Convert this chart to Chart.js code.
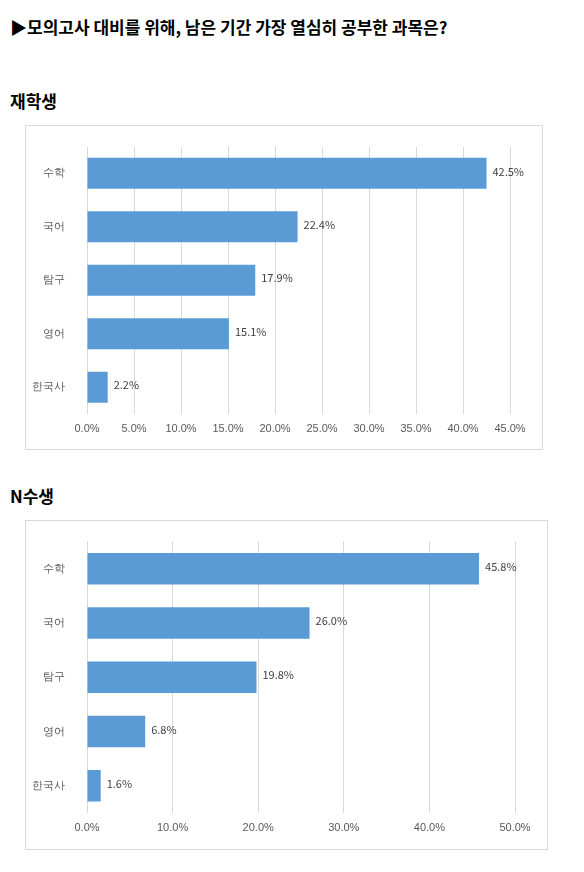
<!DOCTYPE html>
<html><head><meta charset="utf-8">
<script src="https://cdn.jsdelivr.net/npm/chart.js@4"></script>
<style>
body{margin:0;background:#fff;font-family:"Noto Sans CJK KR",sans-serif;}
.t{position:absolute;font-weight:bold;color:#000;}
.box{position:absolute;border:1px solid #d9d9d9;box-sizing:border-box;}
</style></head><body>
<div class="t" style="left:10px;top:14px;font-size:17px;">▶모의고사 대비를 위해, 남은 기간 가장 열심히 공부한 과목은?</div>
<div class="t" style="left:10px;top:88px;font-size:17px;">재학생</div>
<div class="box" style="left:25px;top:125px;width:518px;height:325px;"><canvas id="c1"></canvas></div>
<div class="t" style="left:10px;top:483px;font-size:17px;">N수생</div>
<div class="box" style="left:25px;top:520px;width:523px;height:330px;"><canvas id="c2"></canvas></div>
<script>
const subjects = ['수학','국어','탐구','영어','한국사'];
const enrolled = [42.5, 22.4, 17.9, 15.1, 2.2];
const repeaters = [45.8, 26.0, 19.8, 6.8, 1.6];

const valueLabels = {
  id:'valueLabels',
  afterDatasetsDraw(chart){
    const ctx = chart.ctx;
    const meta = chart.getDatasetMeta(0);
    ctx.save();
    ctx.font = '11px "Noto Sans CJK KR"';
    ctx.fillStyle = '#404040';
    ctx.textBaseline = 'middle';
    meta.data.forEach((bar,i)=>{
      ctx.fillText(chart.data.datasets[0].data[i].toFixed(1)+'%', bar.x+6, bar.y-2);
    });
    ctx.restore();
  }
};

function barFill(c){
  const ch = c.chart, el = c.element;
  if(!ch.chartArea || !el || !Number.isFinite(el.y) || !Number.isFinite(el.height)) return '#5b9bd5';
  const h = el.height;
  const g = ch.ctx.createLinearGradient(0, el.y-h/2, 0, el.y+h/2);
  g.addColorStop(0,'#4f8fd4');
  g.addColorStop(0.45,'#6aa6e0');
  g.addColorStop(1,'#3a78c0');
  return g;
}

function make(id, data, max, step, top, xh){
  new Chart(document.getElementById(id),{
    type:'bar',
    data:{labels:subjects, datasets:[{data:data, backgroundColor:barFill, borderWidth:0,
      categoryPercentage:0.58, barPercentage:1}]},
    options:{
      indexAxis:'y', responsive:true, maintainAspectRatio:false, animation:false,
      layout:{padding:{top:top, right:32, left:0, bottom:0}},
      plugins:{legend:{display:false}, tooltip:{enabled:false}},
      scales:{
        x:{min:0, max:max, ticks:{stepSize:step, color:'#595959', font:{size:11}, padding:8,
            callback:v=>v.toFixed(1)+'%'},
           grid:{color:'#d9d9d9', drawTicks:false}, border:{display:false},
           afterFit:s=>{s.height=xh;}},
        y:{ticks:{color:'#595959', font:{size:11}, padding:14}, grid:{display:false}, border:{display:false},
           afterFit:s=>{s.width=61;}}
      }
    },
    plugins:[valueLabels]
  });
}
make('c1', enrolled, 45, 5, 15, 35);
make('c2', repeaters, 50, 10, 18, 36);
</script>
</body></html>
